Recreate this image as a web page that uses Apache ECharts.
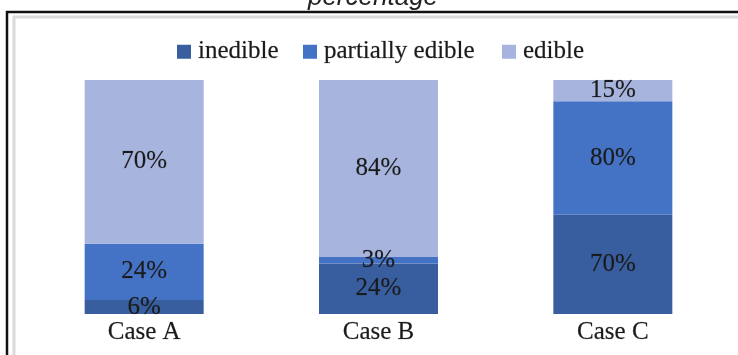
<!DOCTYPE html>
<html>
<head>
<meta charset="utf-8">
<script src="https://cdn.jsdelivr.net/npm/echarts@6/dist/echarts.min.js"></script>
<style>
html,body{margin:0;padding:0;background:#fff;}
#chart{width:738px;height:355px;}
</style>
</head>
<body>
<div id="chart"></div>
<script>
var categories = ['Case A', 'Case B', 'Case C'];
var seriesNames = ['inedible', 'partially edible', 'edible'];
var inedible = [6, 24, 70];
var partiallyEdible = [24, 3, 80];
var edible = [70, 84, 15];
var titleText = 'percentage';

var colors = ['#385E9F', '#4472C4', '#A6B4DE'];
var raw = [inedible, partiallyEdible, edible];
var totals = categories.map(function (c, i) {
  return raw.reduce(function (s, arr) { return s + arr[i]; }, 0);
});

var serif = '"Liberation Serif", "Times New Roman", serif';
var chart = echarts.init(document.getElementById('chart'), null, {renderer: 'canvas'});

var series = raw.map(function (arr, k) {
  return {
    name: seriesNames[k],
    type: 'bar',
    stack: 'total',
    barWidth: 119,
    itemStyle: {color: colors[k]},
    data: arr.map(function (v, i) { return v / totals[i]; }),
    label: {
      show: true,
      position: 'inside',
      fontFamily: serif,
      fontSize: 25,
      color: '#1a1a1a',
      textBorderColor: 'rgba(26,26,26,0.35)',
      textBorderWidth: 0.4,
      formatter: function (p) { return raw[k][p.dataIndex] + '%'; }
    }
  };
});

var legendLefts = [172, 298, 497];
var legends = seriesNames.map(function (n, k) {
  return {
    data: [n],
    left: legendLefts[k],
    top: 34,
    itemWidth: 14,
    itemHeight: 14,
    itemGap: 5,
    icon: 'rect',
    textStyle: {fontFamily: serif, fontSize: 25, color: '#1a1a1a', padding: [0, 0, 0, 2],
      textBorderColor: 'rgba(26,26,26,0.4)', textBorderWidth: 0.5}
  };
});

chart.setOption({
  animation: false,
  backgroundColor: '#fff',
  legend: legends,
  grid: {left: 27, right: 8, top: 80, bottom: 41},
  xAxis: {
    type: 'category',
    data: categories,
    axisLine: {show: false},
    axisTick: {show: false},
    axisLabel: {fontFamily: serif, fontSize: 25, color: '#1a1a1a', margin: 6,
      textBorderColor: 'rgba(26,26,26,0.4)', textBorderWidth: 0.5}
  },
  yAxis: {
    type: 'value',
    min: 0,
    max: 1,
    show: false,
    splitLine: {show: false}
  },
  graphic: [
    {type: 'polyline', shape: {points: [[14, 356], [14, 17], [740, 17]]}, style: {stroke: '#dadada', lineWidth: 3, fill: null}, silent: true},
    {type: 'polyline', shape: {points: [[7, 356], [7, 12], [740, 12]]}, style: {stroke: '#111', lineWidth: 2.5, fill: null}, silent: true},
    {type: 'text', x: 373, y: 11, style: {text: titleText, font: 'italic 26px "Liberation Sans", Arial, sans-serif', fill: '#222', textAlign: 'center', textVerticalAlign: 'bottom'}, silent: true}
  ],
  series: series
});
</script>
</body>
</html>
